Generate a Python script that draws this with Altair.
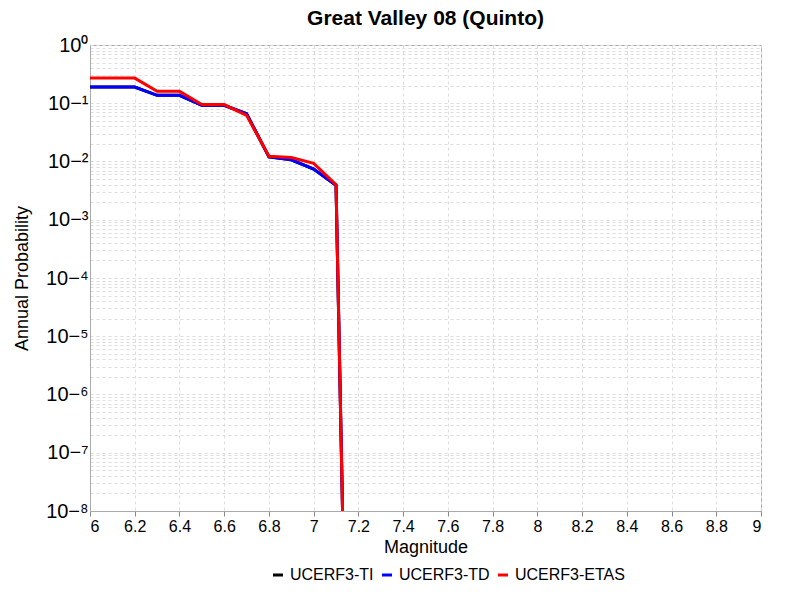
import altair as alt
import pandas as pd

mags = [6.0, 6.1, 6.2, 6.3, 6.4, 6.5, 6.6, 6.7, 6.8, 6.9, 7.0, 7.1, 7.15]
ti = [0.19, 0.19, 0.19, 0.137, 0.137, 0.092, 0.092, 0.066, 0.012, 0.0107, 0.0074, 0.0039, 1e-12]
td = [0.19, 0.19, 0.19, 0.137, 0.137, 0.092, 0.092, 0.066, 0.012, 0.0107, 0.0074, 0.0039, 1e-12]
etas = [0.27, 0.27, 0.27, 0.16, 0.16, 0.095, 0.095, 0.062, 0.0123, 0.0117, 0.0093, 0.0040, 1e-12]
models = ["UCERF3-TI", "UCERF3-TD", "UCERF3-ETAS"]
colors = ["black", "blue", "red"]

rows = []
for name, vals in zip(models, [ti, td, etas]):
    for m, v in zip(mags, vals):
        rows.append({"Magnitude": m, "Prob": v, "Model": name})
df = pd.DataFrame(rows)

y_ticks = [k * 10.0 ** e for e in range(-8, 0) for k in range(1, 10)] + [1.0]
label_expr = ("abs(log(datum.value)/LN10 - round(log(datum.value)/LN10)) < 0.001 ? "
              "'10' + replace(replace(replace(replace(replace(replace(replace(replace(replace(replace("
              "format(round(log(datum.value)/LN10), 'd'),"
              "'-','⁻'),'0','⁰'),'1','¹'),'2','²'),'3','³'),'4','⁴'),'5','⁵'),'6','⁶'),'7','⁷'),'8','⁸') : ''")

chart = alt.Chart(df).mark_line(strokeWidth=3, clip=True).encode(
    x=alt.X("Magnitude:Q", scale=alt.Scale(domain=[6, 9], nice=False),
            axis=alt.Axis(values=[6 + 0.2 * i for i in range(16)], format="~g",
                          title="Magnitude", gridDash=[3, 3], gridColor="#dddddd")),
    y=alt.Y("Prob:Q", scale=alt.Scale(type="log", domain=[1e-8, 1], nice=False),
            axis=alt.Axis(values=y_ticks, labelExpr=label_expr, title="Annual Probability",
                          gridDash=[3, 3], gridColor="#dddddd", labelFontSize=20,
                          labelOverlap=False, ticks=False, titlePadding=14)),
    color=alt.Color("Model:N", sort=models,
                    scale=alt.Scale(domain=models, range=colors),
                    legend=alt.Legend(orient="none", legendX=180, legendY=522, direction="horizontal",
                                      title=None, symbolType="stroke",
                                      symbolStrokeWidth=3, labelFontSize=16, columnPadding=2)),
    order=alt.Order("Model:N", sort="descending"),
).properties(
    width=671, height=466,
    title=alt.TitleParams("Great Valley 08 (Quinto)", fontSize=21, fontWeight="bold", offset=6),
).configure(font="Liberation Sans", padding={"left": 5, "right": 5, "top": 0, "bottom": 5}).configure_axis(
    labelFontSize=16, titleFontSize=18, titleFontWeight="normal", labelColor="black",
    titleColor="black", domainColor="#aaaaaa",
).configure_view(stroke="#aaaaaa")

chart.save("out.html", embed_options={"renderer": "svg", "actions": False})
